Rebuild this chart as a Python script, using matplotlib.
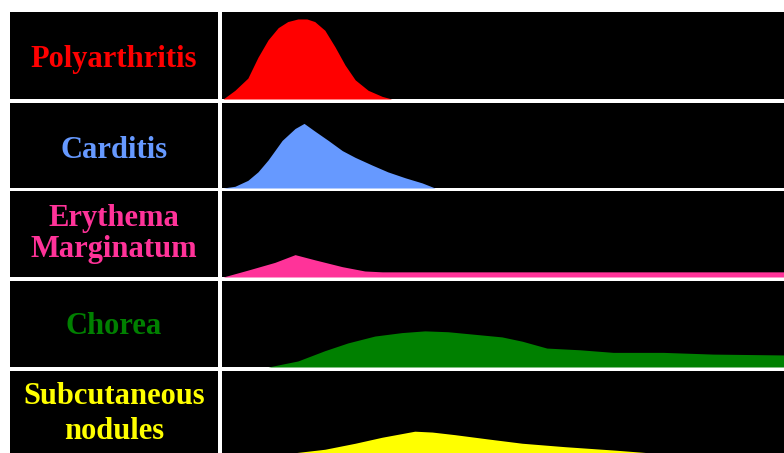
import matplotlib.pyplot as plt

# labels and colours for the five rows
labels = ['Polyarthritis', 'Carditis', 'Erythema\nMarginatum', 'Chorea', 'Subcutaneous\nnodules']
colors = ['#ff0000', '#6699ff', '#ff3399', '#008000', '#ffff00']

# x in % of panel width, y in % of panel height
poly_x = [0.2, 2.3, 4.6, 6.4, 8.2, 10.0, 11.7, 13.5, 15.1, 16.5, 18.3, 20.1, 21.9, 23.7, 26.0, 28.5, 30.2]
poly_y = [0, 10, 24, 48, 68, 82, 89, 92, 92, 89, 79, 60, 39, 22, 10, 3, 0]

card_x = [0.2, 2.3, 4.6, 6.4, 8.2, 10.7, 13.0, 14.6, 16.5, 18.9, 21.4, 23.7, 26.7, 29.5, 32.6, 35.6, 37.9]
card_y = [0, 2, 9, 19, 33, 56, 70, 76, 67, 56, 44, 36, 27, 19, 12, 6, 0]

eryth_x = [0.2, 4.6, 9.4, 13.0, 16.5, 21.4, 25.4, 28.5, 34.3, 100]
eryth_y = [0, 8, 17, 26, 20, 12, 7, 6, 6, 6]

chorea_x = [8.2, 13.5, 18.3, 22.4, 27.2, 32.0, 36.1, 40.2, 45.0, 49.8, 53.4, 57.8, 63.7, 69.6, 78.5, 87.4, 100]
chorea_y = [0, 7, 19, 28, 36, 40, 42, 41, 38, 35, 30, 22, 20, 17, 17, 15, 14]

nod_x = [8.5, 13.0, 18.3, 23.7, 28.5, 34.3, 37.4, 41.4, 47.3, 53.4, 61.0, 69.9, 75.8, 83.3, 88.6]
nod_y = [0, 5, 9, 16, 23, 30, 29, 26, 21, 16, 12, 8, 5, 2, 0]

series = [(poly_x, poly_y), (card_x, card_y), (eryth_x, eryth_y),
          (chorea_x, chorea_y), (nod_x, nod_y)]

W, H = 784, 453
fig = plt.figure(figsize=(W / 100, H / 100), dpi=100)
fig.patch.set_facecolor('white')

row_top = [12, 103, 191, 281, 371]
row_bot = [99, 188, 277, 367, 457]
# vertical centre of each label, in pixels from the top
label_mid = [60, 151, 234, 327, 414]
spacing = [1.0, 1.0, 1.1, 1.0, 1.25]

def box(x0, x1, y0, y1):
    ax = fig.add_axes([x0 / W, 1 - y1 / H, (x1 - x0) / W, (y1 - y0) / H])
    ax.set_facecolor('black')
    ax.set_xticks([]); ax.set_yticks([])
    for s in ax.spines.values():
        s.set_visible(False)
    return ax

for i in range(5):
    # label cell
    lab = box(10, 218, row_top[i], row_bot[i])
    fig.text(114 / W, 1 - label_mid[i] / H, labels[i],
             ha='center', va='center', color=colors[i], fontsize=22,
             fontweight='bold', family='Liberation Serif', linespacing=spacing[i])
    # curve cell
    ax = box(222, 784, row_top[i], row_bot[i])
    x, y = series[i]
    ax.fill_between(x, y, 0, color=colors[i], lw=0)
    ax.set_xlim(0, 100)
    ax.set_ylim(0, 100)

fig.savefig('out.png', dpi=100, facecolor='white')
